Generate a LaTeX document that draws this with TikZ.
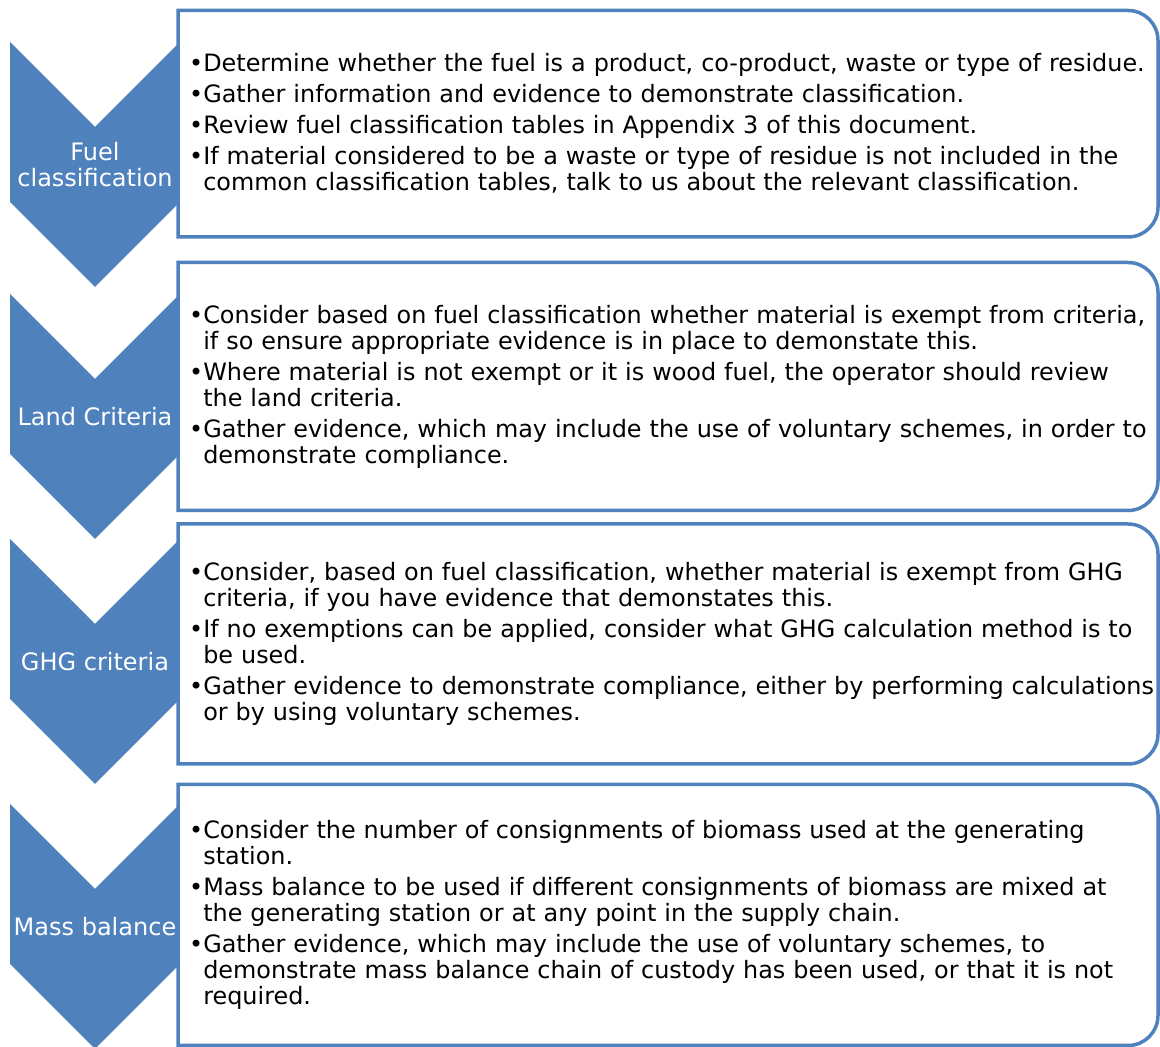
\documentclass[tikz,border=0pt]{standalone}
\usepackage{fontspec}
\setmainfont{DejaVu Sans}
\usepackage{tikz}
\usetikzlibrary{positioning}
\definecolor{stageblue}{HTML}{4F81BD}
\newlength\bulletwd
\newcommand\bpoint[1]{\parskip=5pt\settowidth\bulletwd{•}\noindent\hangindent=\bulletwd\hangafter=1 •#1\par}
\tikzset{
  stage/.style={fill=stageblue},
  stagelabel/.style={text=white,align=center,inner sep=0pt,font=\fontsize{24}{26}\selectfont},
  panel/.style={inner sep=0pt,outer sep=0pt,minimum width=980pt,anchor=north west},
  panelline/.style={draw=stageblue,line width=3.5pt,fill=white},
  detail/.style={align=left,text width=975pt,inner sep=0pt,font=\fontsize{23.9}{26}\selectfont},
}

\begin{document}
\begin{tikzpicture}[x=1pt,y=1pt]
  \useasboundingbox (0,0) rectangle (1160,1047);
  % chevrons down the left
  \foreach \t in {1005,753,508,243}
    \fill[stage] (10,\t) -- (95,\t-85) -- (180,\t) -- (180,\t-160) -- (95,\t-245) -- (10,\t-160) -- cycle;
  \node[stagelabel] (fuel) at (95,882.5) {Fuel\\classification};
  \node[stagelabel] (land) at (95,630.5) {Land Criteria};
  \node[stagelabel] (ghg) at (95,385.5) {GHG criteria};
  \node[stagelabel] (mass) at (95,120) {Mass balance};
  % panels
  \node[panel,minimum height=226.5pt] (fuelbox) at (178,1036.5) {};
  \node[panel,minimum height=248pt] (landbox) at (178,784.5) {};
  \node[panel,minimum height=240pt] (ghgbox) at (178,523) {};
  \node[panel,minimum height=261pt] (massbox) at (178,262.5) {};
  \foreach \b in {fuelbox,landbox,ghgbox,massbox}
    \draw[panelline] (\b.north west) -- ([xshift=-30pt]\b.north east) arc[start angle=90,end angle=0,radius=30pt]
      -- ([yshift=30pt]\b.south east) arc[start angle=0,end angle=-90,radius=30pt] -- (\b.south west) -- cycle;
  \node[detail,right=11pt of fuelbox.west] (fueltext) {%
    \bpoint{Determine whether the fuel is a product, co-product, waste or type of residue.}
    \bpoint{Gather information and evidence to demonstrate classification.}
    \bpoint{Review fuel classification tables in Appendix 3 of this document.}
    \bpoint{If material considered to be a waste or type of residue is not included in the\newline common classification tables, talk to us about the relevant classification.}};
  \node[detail,right=11pt of landbox.west] (landtext) {%
    \bpoint{Consider based on fuel classification whether material is exempt from criteria,\newline if so ensure appropriate evidence is in place to demonstate this.}
    \bpoint{Where material is not exempt or it is wood fuel, the operator should review\newline the land criteria.}
    \bpoint{Gather evidence, which may include the use of voluntary schemes, in order to\newline demonstrate compliance.}};
  \node[detail,right=11pt of ghgbox.west] (ghgtext) {%
    \bpoint{Consider, based on fuel classification, whether material is exempt from GHG\newline criteria, if you have evidence that demonstates this.}
    \bpoint{If no exemptions can be applied, consider what GHG calculation method is to\newline be used.}
    \bpoint{Gather evidence to demonstrate compliance, either by performing calculations\newline or by using voluntary schemes.}};
  \node[detail,right=11pt of massbox.west] (masstext) {%
    \bpoint{Consider the number of consignments of biomass used at the generating\newline station.}
    \bpoint{Mass balance to be used if different consignments of biomass are mixed at\newline the generating station or at any point in the supply chain.}
    \bpoint{Gather evidence, which may include the use of voluntary schemes, to\newline demonstrate mass balance chain of custody has been used, or that it is not\newline required.}};
\end{tikzpicture}
\end{document}
